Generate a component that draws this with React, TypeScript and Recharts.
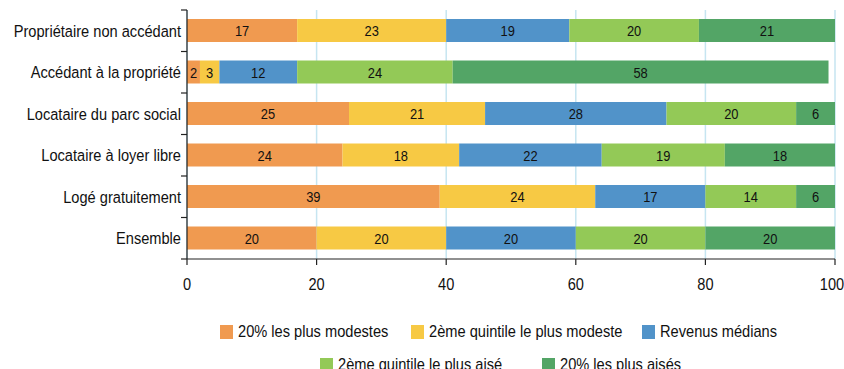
import { BarChart, Bar, XAxis, YAxis, CartesianGrid, LabelList } from "recharts"

const categories = [
  "Propriétaire non accédant",
  "Accédant à la propriété",
  "Locataire du parc social",
  "Locataire à loyer libre",
  "Logé gratuitement",
  "Ensemble",
]
const seriesNames = [
  "20% les plus modestes",
  "2ème quintile le plus modeste",
  "Revenus médians",
  "2ème quintile le plus aisé",
  "20% les plus aisés",
]
const q1 = [17, 2, 25, 24, 39, 20]
const q2 = [23, 3, 21, 18, 24, 20]
const q3 = [19, 12, 28, 22, 17, 20]
const q4 = [20, 24, 20, 19, 14, 20]
const q5 = [21, 58, 6, 18, 6, 20]
const xTicks = [0, 20, 40, 60, 80, 100]

const colors = ["#F09A50", "#F7C944", "#5193C9", "#93C957", "#53A566"]
const keys = ["q1", "q2", "q3", "q4", "q5"]
const values = [q1, q2, q3, q4, q5]

const data = categories.map((cat, i) => {
  const row: Record<string, string | number> = { cat }
  keys.forEach((k, s) => (row[k] = values[s][i]))
  return row
})

// no narrow face installed, so text is squeezed horizontally
const FONT = '"Liberation Sans", Arial, sans-serif'
const SQUEEZE = 0.86
const W = 844
const H = 369
const PLOT_LEFT = 187
const PLOT_TOP = 10
const PLOT_BOTTOM = 259
const BAND = (PLOT_BOTTOM - PLOT_TOP) / categories.length

const Narrow = ({ x, y, size, anchor, children }: any) => (
  <g transform={`translate(${x},${y}) scale(${SQUEEZE},1)`}>
    <text x={0} y={0} textAnchor={anchor} fontSize={size} fill="#111" fontFamily={FONT}>
      {children}
    </text>
  </g>
)

// category label plus a small tick on the band boundary above it
const CatTick = (props: any) => {
  const { y, payload, index } = props
  const top = y - BAND / 2
  return (
    <g>
      <line x1={PLOT_LEFT - 6} x2={PLOT_LEFT} y1={top} y2={top} stroke="#222" strokeWidth={1.2} />
      {index === categories.length - 1 && (
        <line x1={PLOT_LEFT - 6} x2={PLOT_LEFT} y1={top + BAND} y2={top + BAND} stroke="#222" strokeWidth={1.2} />
      )}
      <Narrow x={PLOT_LEFT - 6} y={y + 6} size={17} anchor="end">
        {payload.value}
      </Narrow>
    </g>
  )
}

const ValueTick = (props: any) => {
  const { x, y, payload } = props
  return (
    <Narrow x={x} y={y + 19} size={17} anchor="middle">
      {payload.value}
    </Narrow>
  )
}

const SegmentLabel = (props: any) => {
  const { x, y, width, height, value } = props
  return (
    <Narrow x={x + width / 2} y={y + height / 2 + 5.5} size={15} anchor="middle">
      {value}
    </Narrow>
  )
}

// legend entries: series index and left edge of its swatch
const legendItems = [
  { s: 0, left: 220, row: 0 },
  { s: 1, left: 411, row: 0 },
  { s: 2, left: 642, row: 0 },
  { s: 3, left: 320, row: 1 },
  { s: 4, left: 542, row: 1 },
]

export default function App() {
  return (
    <div style={{ position: "absolute", left: 0, top: 0, width: W, height: H, overflow: "hidden", background: "#fff", fontFamily: FONT }}>
      <BarChart
        width={W}
        height={H}
        data={data}
        layout="vertical"
        barSize={23}
        margin={{ top: PLOT_TOP, right: W - 835, left: 0, bottom: H - PLOT_BOTTOM - 30 }}
      >
        <CartesianGrid horizontal={false} stroke="#C6E5F1" strokeWidth={1.5} />
        <XAxis
          type="number"
          domain={[0, 100]}
          ticks={xTicks}
          allowDataOverflow
          height={30}
          tickSize={6}
          tickMargin={6}
          axisLine={{ stroke: "#222", strokeWidth: 1.2 }}
          tickLine={{ stroke: "#222", strokeWidth: 1.2 }}
          tick={<ValueTick />}
        />
        <YAxis
          type="category"
          dataKey="cat"
          width={PLOT_LEFT}
          tickLine={false}
          axisLine={{ stroke: "#222", strokeWidth: 1.2 }}
          tick={<CatTick />}
          interval={0}
        />
        {keys.map((k, s) => (
          <Bar key={k} dataKey={k} name={seriesNames[s]} stackId="a" fill={colors[s]} isAnimationActive={false}>
            <LabelList dataKey={k} content={<SegmentLabel />} />
          </Bar>
        ))}
      </BarChart>
      {legendItems.map(({ s, left, row }) => (
        <div
          key={s}
          style={{
            position: "absolute",
            left,
            top: 321 + row * 33,
            height: 22,
            display: "flex",
            alignItems: "center",
            whiteSpace: "nowrap",
            fontSize: 17,
            color: "#111",
          }}
        >
          <span style={{ display: "inline-block", width: 13, height: 14, background: colors[s], marginRight: 5 }} />
          <span style={{ display: "inline-block", transform: `scaleX(${SQUEEZE})`, transformOrigin: "left center" }}>
            {seriesNames[s]}
          </span>
        </div>
      ))}
    </div>
  )
}
